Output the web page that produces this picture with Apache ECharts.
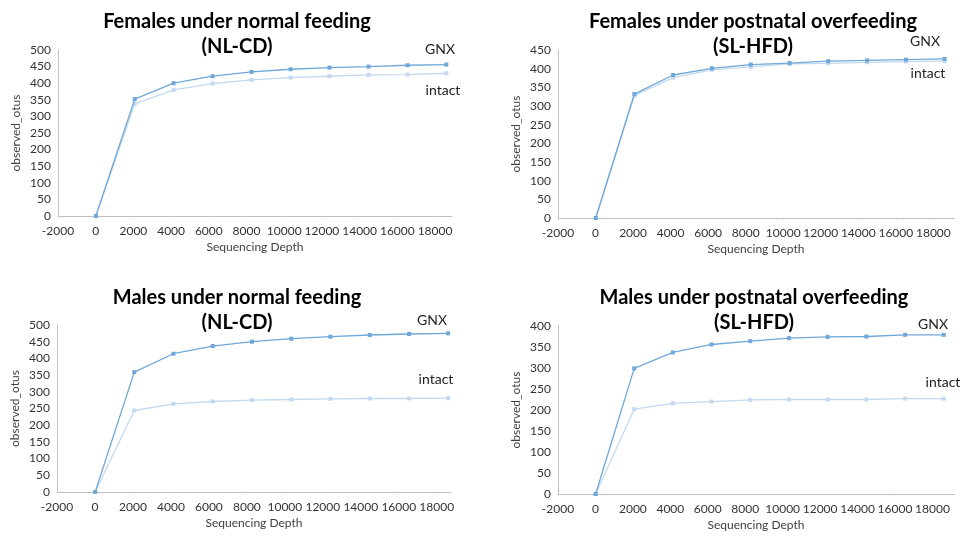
<!DOCTYPE html>
<html>
<head>
<meta charset="utf-8">
<script src="https://cdn.jsdelivr.net/npm/echarts@6/dist/echarts.min.js"></script>
<style>
  html, body { margin: 0; padding: 0; background: #fff; }
  #main { width: 965px; height: 537px; }
</style>
</head>
<body>
<div id="main"></div>
<script>
// rarefaction depths shared by all four panels
const depths = [10, 2070, 4130, 6200, 8270, 10340, 12400, 14470, 16540, 18600];

// observed_otus
const femNormalGNX    = [0, 352, 400, 421, 434, 442, 447, 450, 454, 456];
const femNormalIntact = [0, 338, 380, 399, 410, 417, 421, 425, 426, 430];
const femOverGNX      = [0, 332, 383, 401, 411, 415, 420, 422, 424, 426];
const femOverIntact   = [0, 328, 376, 397, 405, 413, 414, 417, 419, 420];
const maleNormalGNX    = [0, 359, 414, 437, 450, 459, 465, 470, 473, 475];
const maleNormalIntact = [0, 244, 264, 271, 275, 277, 279, 280, 280, 281];
const maleOverGNX      = [0, 299, 337, 356, 364, 371, 374, 375, 379, 379];
const maleOverIntact   = [0, 202, 216, 220, 224, 225, 225, 225, 227, 227];

const panelTitles = [
  ['Females under normal feeding', '(NL-CD)'],
  ['Females under postnatal overfeeding', '(SL-HFD)'],
  ['Males under normal feeding', '(NL-CD)'],
  ['Males under postnatal overfeeding', '(SL-HFD)']
];
const yMax = [500, 450, 500, 400];
const xMax = [18900, 19100, 18750, 19150];

const gnxColor = '#6fa8d8';
const intactColor = '#c3d9ef';

function pairs(ys) {
  return ys.map((v, i) => [depths[i], v]);
}

const grids = [
  { left: 58, right: 513, top: 50, height: 166 },
  { left: 558, right: 11, top: 50, height: 168 },
  { left: 57, right: 514, top: 325, height: 167 },
  { left: 558, right: 11, top: 326, height: 168 }
];

const textFont = 'Lato';
const xAxes = grids.map((g, i) => ({
  type: 'value', gridIndex: i, min: -2000, max: xMax[i], interval: 2000,
  name: 'Sequencing Depth', nameLocation: 'middle', nameGap: 25,
  nameTextStyle: { color: '#404040', fontSize: 12, fontFamily: textFont },
  axisLine: { lineStyle: { color: '#bfbfbf' } },
  axisTick: { show: true, length: 2, lineStyle: { color: '#d9d9d9' } },
  axisLabel: { color: '#333', fontSize: 12, fontFamily: textFont, margin: 9, showMaxLabel: false,
               formatter: v => String(v) },
  splitLine: { show: false }
}));
const yAxes = grids.map((g, i) => ({
  type: 'value', gridIndex: i, min: 0, max: yMax[i], interval: 50,
  name: 'observed_otus', nameLocation: 'middle', nameGap: 36,
  nameTextStyle: { color: '#404040', fontSize: 12, fontFamily: textFont },
  axisLine: { show: true, onZero: false, lineStyle: { color: '#bfbfbf' } },
  axisTick: { show: false },
  axisLabel: { color: '#333', fontSize: 12, fontFamily: textFont, margin: 7 },
  splitLine: { show: false }
}));

function lineSeries(i, name, ys, color, z) {
  return {
    type: 'line', name: name, xAxisIndex: i, yAxisIndex: i,
    data: pairs(ys), symbol: 'rect', symbolSize: 4, showSymbol: true,
    lineStyle: { color: color, width: 1.3 },
    itemStyle: { color: color },
    z: z, silent: true, animation: false
  };
}

const series = [
  lineSeries(0, 'intact', femNormalIntact, intactColor, 2),
  lineSeries(0, 'GNX', femNormalGNX, gnxColor, 3),
  lineSeries(1, 'intact', femOverIntact, intactColor, 2),
  lineSeries(1, 'GNX', femOverGNX, gnxColor, 3),
  lineSeries(2, 'intact', maleNormalIntact, intactColor, 2),
  lineSeries(2, 'GNX', maleNormalGNX, gnxColor, 3),
  lineSeries(3, 'intact', maleOverIntact, intactColor, 2),
  lineSeries(3, 'GNX', maleOverGNX, gnxColor, 3)
];

const titleCenters = [[232, 4], [748, 4], [232, 280], [749, 280]];
const titles = panelTitles.map((t, i) => ({
  text: t[0] + '\n' + t[1],
  left: titleCenters[i][0], top: titleCenters[i][1], textAlign: 'center',
  textStyle: { fontFamily: textFont, fontWeight: 'bold', fontSize: 20, color: '#000', lineHeight: 25 }
}));

// series name tags placed beside the curves
const tagPos = [
  [[440, 49], [443, 90]],
  [[925, 41], [928, 73]],
  [[432, 320], [436, 379]],
  [[933, 324], [943, 382]]
];
const graphic = [];
tagPos.forEach(p => {
  graphic.push({ type: 'text', x: p[0][0], y: p[0][1], style: { text: 'GNX', fill: '#222', font: '14px Lato', align: 'center', verticalAlign: 'middle' } });
  graphic.push({ type: 'text', x: p[1][0], y: p[1][1], style: { text: 'intact', fill: '#222', font: '14px Lato', align: 'center', verticalAlign: 'middle' } });
});

const chart = echarts.init(document.getElementById('main'));
chart.setOption({
  animation: false,
  title: titles,
  grid: grids,
  xAxis: xAxes,
  yAxis: yAxes,
  series: series,
  graphic: graphic
});
</script>
</body>
</html>
